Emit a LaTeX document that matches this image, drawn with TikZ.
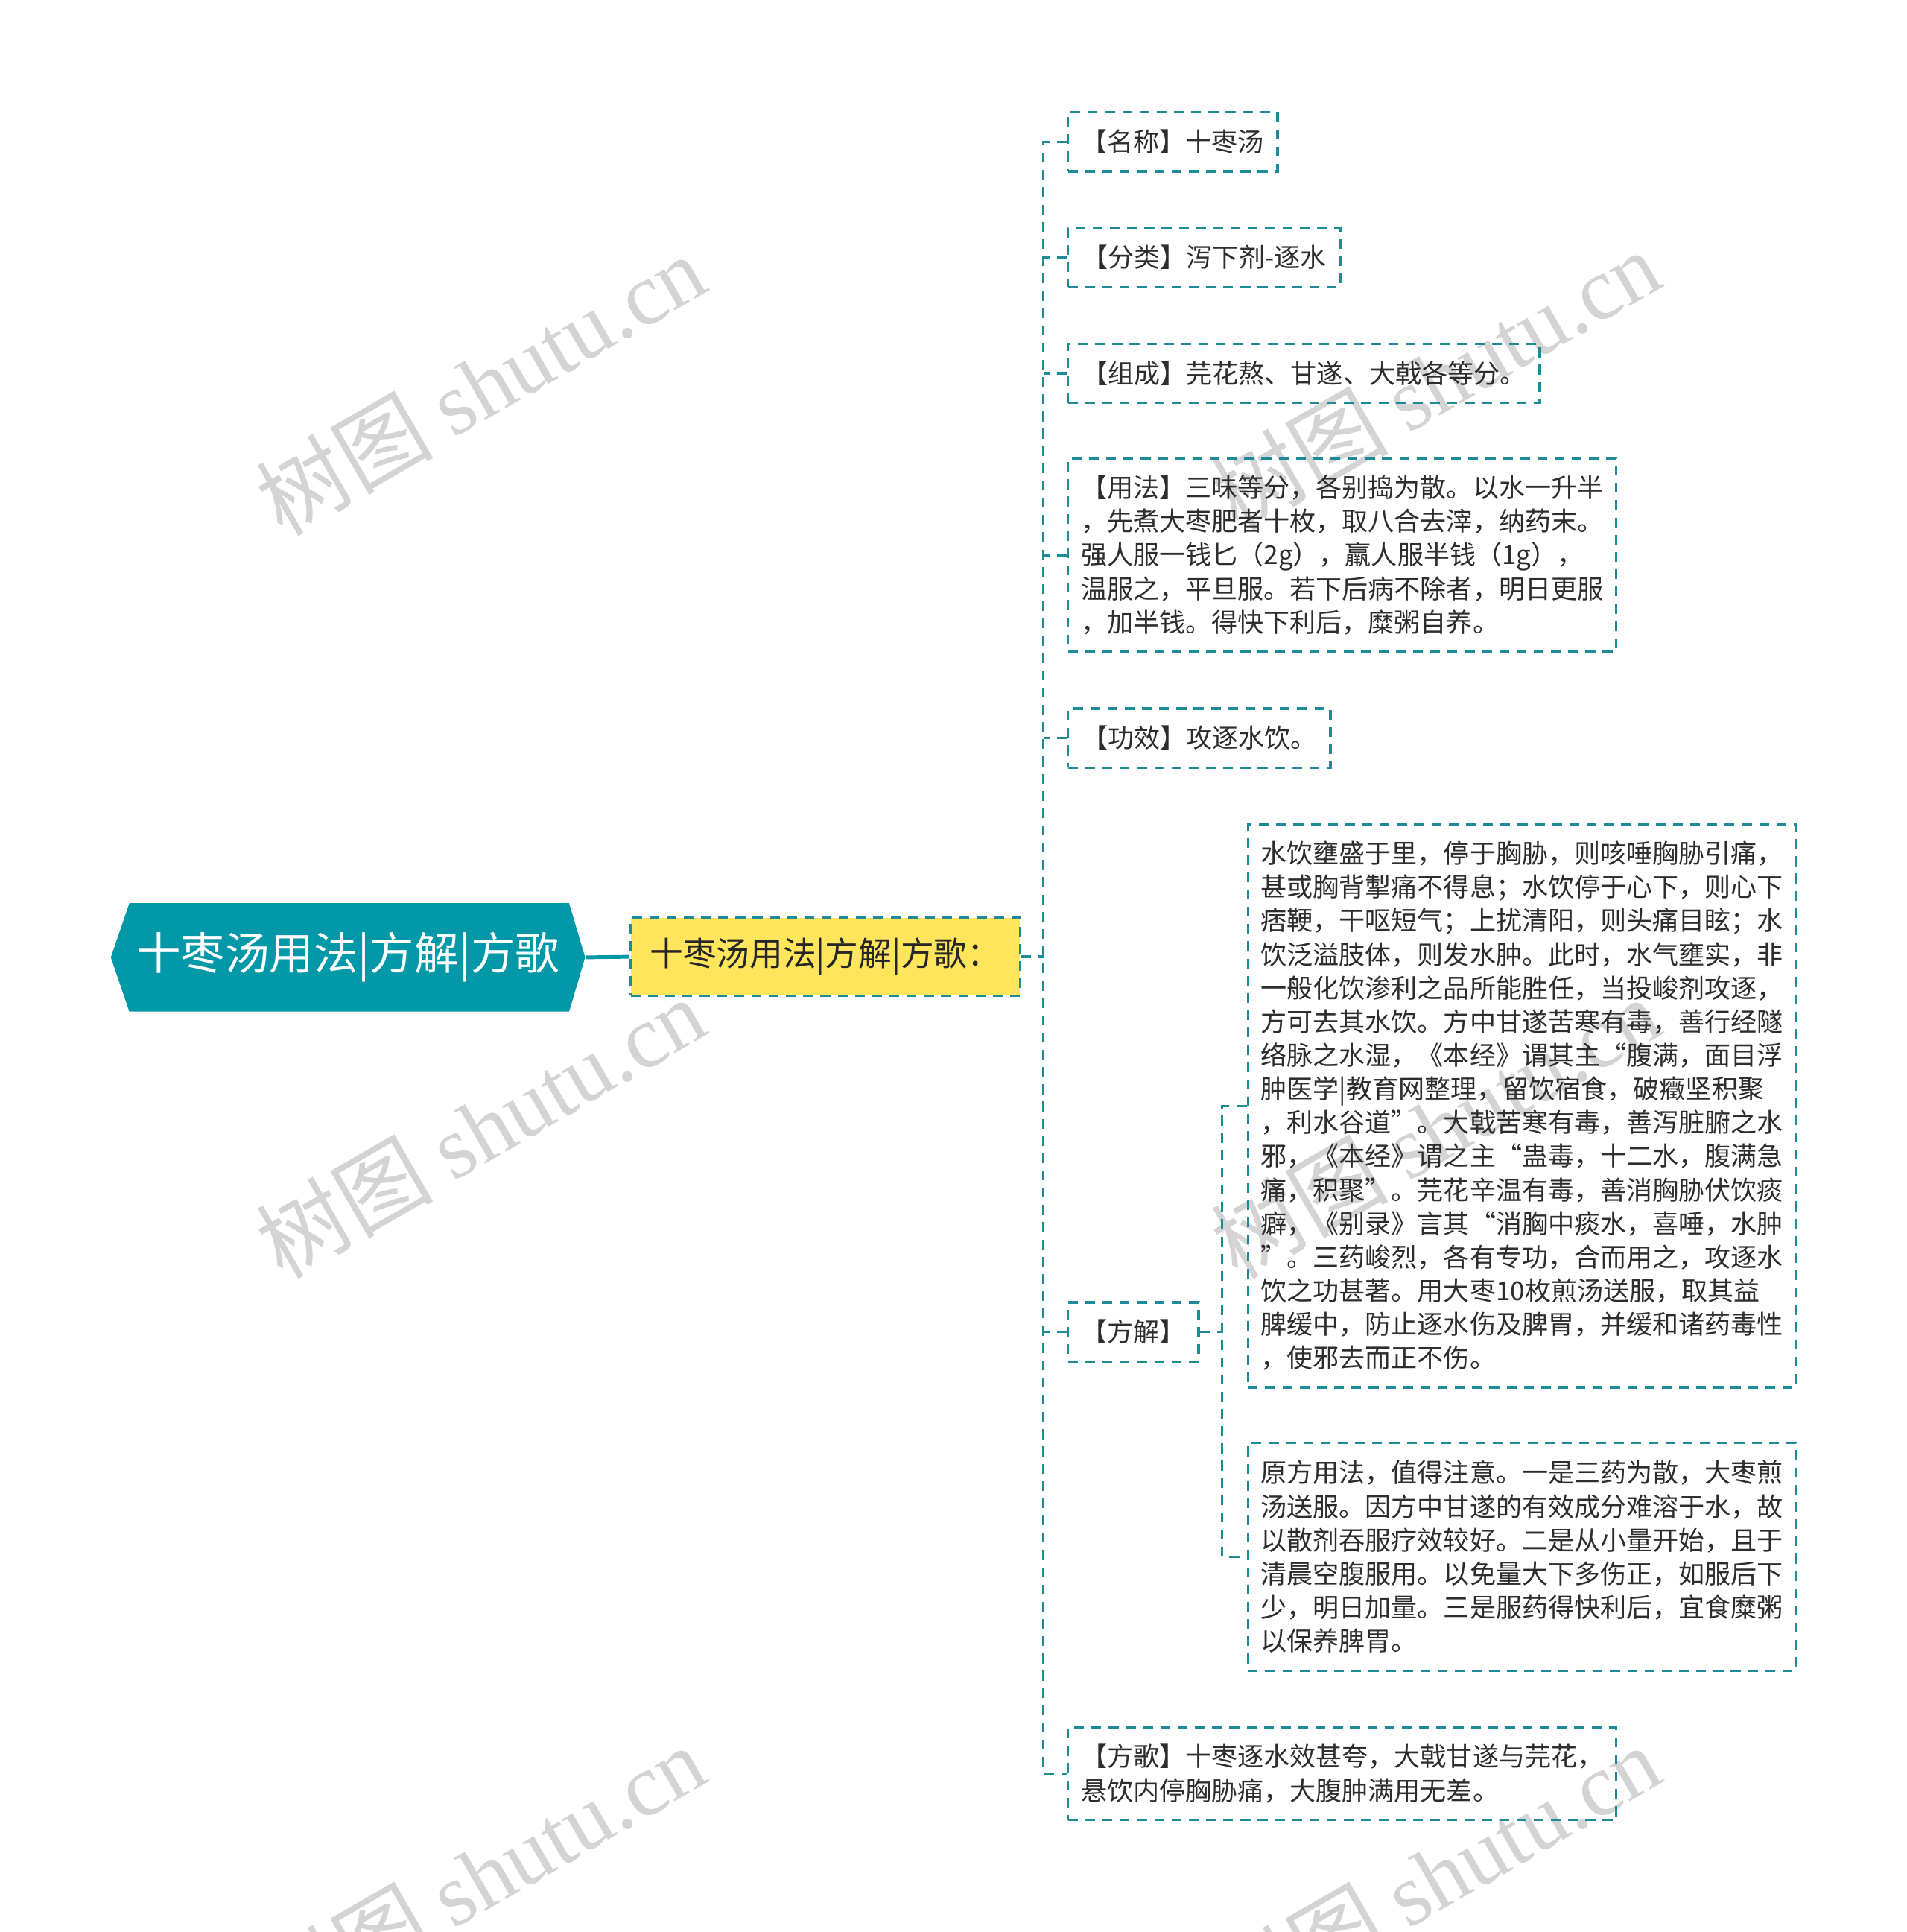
\documentclass[tikz,border=0pt]{standalone}
\usepackage{fontspec}
\setmainfont{Noto Sans CJK SC}
\newfontfamily\wmserif{Liberation Serif}
\definecolor{rootteal}{RGB}{2,152,168}
\definecolor{lineteal}{RGB}{30,138,152}
\definecolor{boxyellow}{RGB}{255,229,92}
\definecolor{txt}{RGB}{45,45,45}
\definecolor{wmgray}{RGB}{212,212,212}
\begin{document}
\begin{tikzpicture}[x=0.5pt,y=-0.5pt,
  dl/.style={draw=lineteal, line width=1pt, dash pattern=on 4pt off 3pt},
  leaf/.style={dl, rectangle, inner sep=0pt, align=left, text=txt,
    font=\fontsize{10.6}{13.65}\selectfont, anchor=west, minimum height=24pt},
  wmark/.style={text=wmgray, rotate=30, inner sep=0pt, font=\fontsize{36}{36}\selectfont}
]
\useasboundingbox (0,0) rectangle (1548,1568);
% watermarks
\foreach \wx/\wy [count=\i] in {390/312, 390/915, 390/1522, 1165/308, 1165/915, 1165/1522} {
  \node[wmark] (wm\i) at (\wx,\wy) {树图 {\wmserif shutu.cn}};
}
% root
\fill[rootteal] (90,777) -- (105,733) -- (462,733) -- (475,777) -- (462,821) -- (105,821) -- cycle;
\node[text=white, font=\fontsize{18}{18}\selectfont, minimum width=192.5pt, minimum height=44pt, inner sep=0pt] (root) at (282.5,777) {十枣汤用法|方解|方歌};
% main
\node[dl, fill=boxyellow, minimum width=158pt, minimum height=31.5pt, inner sep=0pt,
  font=\fontsize{13.5}{13.5}\selectfont, text=black!85] (main) at (670,776.5) {十枣汤用法|方解|方歌：};
% leaves
\node[leaf, minimum width=85pt] (n1) at (866,115) {【名称】十枣汤};
\node[leaf, minimum width=110.5pt] (n2) at (866,209) {【分类】泻下剂-逐水};
\node[leaf, minimum width=191.5pt] (n3) at (866,303) {【组成】芫花熬、甘遂、大戟各等分。};
\node[leaf, minimum width=222.5pt, minimum height=78.5pt] (n4) at (866,450.5) {【用法】三味等分，各别捣为散。以水一升半\\
，先煮大枣肥者十枚，取八合去滓，纳药末。\\
强人服一钱匕（2g），羸人服半钱（1g），\\
温服之，平旦服。若下后病不除者，明日更服\\
，加半钱。得快下利后，糜粥自养。};
\node[leaf, minimum width=106.5pt] (n5) at (866,599) {【功效】攻逐水饮。};
\node[leaf, minimum width=53pt] (n6) at (866,1081) {【方解】};
\node[leaf, minimum width=222.5pt, minimum height=37.5pt] (n7) at (866,1439.5) {【方歌】十枣逐水效甚夸，大戟甘遂与芫花，\\
悬饮内停胸胁痛，大腹肿满用无差。};
\node[leaf, minimum width=222.5pt, minimum height=228.5pt] (fa) at (1012,897.5) {水饮壅盛于里，停于胸胁，则咳唾胸胁引痛，\\
甚或胸背掣痛不得息；水饮停于心下，则心下\\
痞鞕，干呕短气；上扰清阳，则头痛目眩；水\\
饮泛溢肢体，则发水肿。此时，水气壅实，非\\
一般化饮渗利之品所能胜任，当投峻剂攻逐，\\
方可去其水饮。方中甘遂苦寒有毒，善行经隧\\
络脉之水湿，《本经》谓其主“腹满，面目浮\\
肿医学|教育网整理，留饮宿食，破癥坚积聚\\
，利水谷道”。大戟苦寒有毒，善泻脏腑之水\\
邪，《本经》谓之主“蛊毒，十二水，腹满急\\
痛，积聚”。芫花辛温有毒，善消胸胁伏饮痰\\
癖，《别录》言其“消胸中痰水，喜唾，水肿\\
”。三药峻烈，各有专功，合而用之，攻逐水\\
饮之功甚著。用大枣10枚煎汤送服，取其益\\
脾缓中，防止逐水伤及脾胃，并缓和诸药毒性\\
，使邪去而正不伤。};
\node[leaf, minimum width=222.5pt, minimum height=92.5pt] (fb) at (1012,1263.5) {原方用法，值得注意。一是三药为散，大枣煎\\
汤送服。因方中甘遂的有效成分难溶于水，故\\
以散剂吞服疗效较好。二是从小量开始，且于\\
清晨空腹服用。以免量大下多伤正，如服后下\\
少，明日加量。三是服药得快利后，宜食糜粥\\
以保养脾胃。};
% connectors
\draw[rootteal, line width=1.5pt] (root.east) -- (main.west);
\coordinate (trunk) at (847,776.5);
\draw[dl] (main.east) -- (trunk);
\draw[dl] (n1.west) -| (trunk) |- (n7.west);
\foreach \n in {n2,n3,n4,n5,n6} {
  \draw[dl] (\n.west) -- (\n.west -| trunk);
}
\coordinate (sub) at (992,1081);
\draw[dl] (n6.east) -- (sub);
\draw[dl] (fa.west) -| (sub) |- (fb.west);
\end{tikzpicture}
\end{document}
